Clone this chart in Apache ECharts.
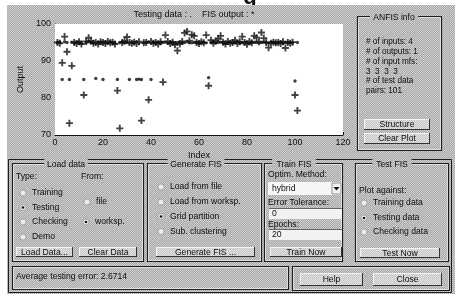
<!DOCTYPE html>
<html><head><meta charset="utf-8">
<script src="https://cdn.jsdelivr.net/npm/echarts/dist/echarts.min.js"></script>
<style>html,body{margin:0;padding:0;background:#fff;overflow:hidden}#c{width:455px;height:294px}</style>
</head><body><div id="c"></div>
<script>
// ---- data ----
const xTicks = [0, 20, 40, 60, 80, 100, 120];
const yTicks = [70, 80, 90, 100];
// testing data (".") for index 1..101
const testingData = [
 95.0,95.1,85.0,95.2,95.0,85.0,95.1,94.9,95.0,95.1,
 94.8,85.0,95.0,95.2,95.0,94.9,85.3,95.0,95.1,85.0,
 95.0,94.9,95.1,95.0,94.8,85.0,95.0,95.1,94.9,95.0,
 85.0,95.1,95.0,85.0,85.1,85.0,94.9,95.0,95.1,85.0,
 95.0,94.9,95.1,95.0,95.0,95.1,94.9,95.0,95.1,94.8,
 95.0,95.1,94.9,95.0,95.2,95.0,94.9,95.1,95.0,94.8,
 95.1,95.0,94.9,85.5,95.0,95.1,94.9,95.0,95.1,95.0,
 94.8,95.0,95.1,94.9,95.0,95.1,95.0,94.9,95.0,95.1,
 94.8,95.0,95.1,95.0,94.9,95.0,95.1,95.0,94.9,95.0,
 95.1,94.8,95.0,95.1,94.9,95.0,95.0,95.1,94.9,84.6,
 95.0];
// FIS output ("*") for index 1..101
const fisOutput = [
 95.0,94.8,89.5,96.6,92.5,73.2,88.7,95.0,94.7,95.2,
 94.6,80.8,95.3,96.3,95.4,94.8,95.0,94.6,95.2,95.0,
 94.7,95.3,94.9,95.1,94.6,82.0,71.8,95.0,95.4,96.5,
 95.0,94.8,95.1,94.7,95.2,73.9,94.9,95.0,79.5,95.3,
 94.8,95.0,94.6,95.2,84.3,97.0,95.3,94.7,95.1,94.4,
 92.8,94.6,95.3,97.6,98.0,95.5,97.1,96.8,95.0,94.7,
 95.2,94.9,97.0,83.3,95.6,94.8,95.4,96.0,96.8,95.1,
 94.6,95.3,94.8,95.0,95.6,94.7,95.2,96.6,95.0,94.5,
 95.3,94.9,96.8,96.3,95.2,97.7,96.2,95.0,93.6,94.8,
 95.1,94.9,95.0,94.7,95.2,93.5,95.0,94.8,95.1,80.8,
 76.6];
const infoLines = ['# of inputs: 4', '# of outputs: 1', '# of input mfs:', '3  3  3  3', '# of test data', 'pairs: 101'];
const statusText = 'Average testing error: 2.6714';

// ---- helpers ----
const FF = '"Liberation Sans", Arial, sans-serif';
const FONT = '8.6px ' + FF;
function mkPattern(a, b) {
  const cv = document.createElement('canvas'); cv.width = 2; cv.height = 2;
  const g = cv.getContext('2d');
  g.fillStyle = a; g.fillRect(0,0,2,2);
  g.fillStyle = b; g.fillRect(0,0,1,1); g.fillRect(1,1,1,1);
  return {image: cv, repeat: 'repeat'};
}
const bgPat = mkPattern('#a6a6a6', '#d0d0d0');
const btnPat = mkPattern('#c4c4c4', '#e4e4e4');
const G = [];
function rect(x,y,w,h,fill,stroke,lw){G.push({type:'rect',silent:true,shape:{x:x,y:y,width:w,height:h},style:{fill:fill||'none',stroke:stroke||null,lineWidth:lw||1}});}
function line(x1,y1,x2,y2,c,lw){G.push({type:'line',silent:true,shape:{x1:x1,y1:y1,x2:x2,y2:y2},style:{stroke:c,lineWidth:lw||1}});}
function text(x,y,t,align,extra){G.push({type:'text',silent:true,x:x,y:y,style:Object.assign({text:t,fill:'#0d0d0d',font:FONT,textAlign:align||'left',textVerticalAlign:'middle',align:align||'left',verticalAlign:'middle'},extra||{})});}
function panel(x,y,w,h,title,tx){
  rect(x+0.5,y+0.5,w,h,'none','#1e1e1e',1.2);
  rect(x+1.5,y+1.5,w-2,h-2,'none','#e8e8e8',0.8);
  if(title){
    const tw = title.length*4.4+4;
    rect(tx-tw/2,y-4,tw,8,bgPat,null);
    text(tx,y+1.5,title,'center');
  }
}
function button(x,y,w,h,label){
  rect(x,y,w,h,btnPat,null);
  line(x,y+0.5,x+w,y+0.5,'#f4f4f4');
  line(x+0.5,y,x+0.5,y+h,'#f4f4f4');
  line(x,y+h-0.5,x+w,y+h-0.5,'#333');
  line(x+w-0.5,y,x+w-0.5,y+h,'#333');
  text(x+w/2,y+h/2+0.5,label,'center');
}
function radio(cx,cy,label,sel){
  G.push({type:'circle',silent:true,shape:{cx:cx,cy:cy,r:3},style:{fill:'#ececec',stroke:'#888',lineWidth:0.6}});
  if(sel) G.push({type:'circle',silent:true,shape:{cx:cx,cy:cy,r:1.3},style:{fill:'#111'}});
  text(cx+9,cy,label,'left');
}
function field(x,y,w,h,val){
  rect(x,y,w,h,'#f2f2f2',null);
  line(x,y+0.5,x+w,y+0.5,'#666');
  text(x+3,y+h/2+0.5,val,'left');
}

// page glyph cut off at the top, then the GUI background over it
G.push({type:'text',silent:true,x:250,y:9,style:{text:'g',fill:'#111',font:'bold 22px ' + FF,textAlign:'center',align:'center',textVerticalAlign:'bottom',verticalAlign:'bottom'}});
rect(7,5,448,289,bgPat,null);
// plot title
text(194,14.5,'Testing data : .    FIS output : *','center',{font:'9px ' + FF});

// ANFIS info panel
panel(357,16,84,134,'ANFIS info',394);
infoLines.forEach(function(s,i){ text(366,42+i*9.8,s,'left',{font:'8.2px ' + FF}); });
button(364,119,66,11,'Structure');
button(364,133,66,11,'Clear Plot');

// bottom frame
rect(8.5,159.5,443,133,'none','#1e1e1e',1);
// Load data
panel(12,163,131,98,'Load data',66);
text(16,177,'Type:','left');
text(81,177,'From:','left');
radio(23,193,'Training',false);
radio(23,207.5,'Testing',true);
radio(23,222,'Checking',false);
radio(23,237,'Demo',false);
radio(87,202,'file',false);
radio(86,222,'worksp.',true);
button(16,247,57,10,'Load Data...');
button(79,247,58,10,'Clear Data');
// Generate FIS
panel(147,163,114,98,'Generate FIS',196);
radio(161,187,'Load from file',false);
radio(161,202,'Load from worksp.',false);
radio(161,216.5,'Grid partition',true);
radio(161,231.5,'Sub. clustering',false);
button(156,247,99,10,'Generate FIS ...');
// Train FIS
panel(264,163,78,98,'Train FIS',294);
text(268,175,'Optim. Method:','left');
rect(268,182,74,13,'#f6f6f6',null);
text(272,188.5,'hybrid','left');
rect(332,183,9,11,'#f0f0f0','#555',0.6);
G.push({type:'polygon',silent:true,shape:{points:[[333.5,187],[339.5,187],[336.5,190.5]]},style:{fill:'#111'}});
text(268,203,'Error Tolerance:','left');
field(269,208,73,11,'0');
text(268,224.5,'Epochs:','left');
field(269,229,73,11,'20');
button(270,247,72,10,'Train Now');
// Test FIS
panel(355,163,93,98,'Test FIS',392);
text(359,191,'Plot against:','left');
radio(364,203,'Training data',false);
radio(364,218,'Testing data',true);
radio(364,232,'Checking data',false);
button(360,248,80,10,'Test Now');
// status + help/close
panel(12,266,276,23,null);
text(16,277,statusText,'left');
panel(292,266,157,24,null);
button(300,273,63,13,'Help');
button(373,273,69,13,'Close');

// ---- chart ----
const chart = echarts.init(document.getElementById('c'), null, {renderer:'canvas'});
const plus = 'path://M2.2,0H3.8V2.2H6V3.8H3.8V6H2.2V3.8H0V2.2H2.2Z';
const axisLab = {fontSize:9, color:'#0d0d0d', fontFamily:'Liberation Sans'};
chart.setOption({
  animation:false,
  backgroundColor:'#ffffff',
  graphic:{elements:G},
  grid:{left:55,right:112,top:24,bottom:159,show:true,backgroundColor:'#ffffff',borderWidth:0,z:1},
  xAxis:{type:'value',min:xTicks[0],max:xTicks[xTicks.length-1],interval:20,
    name:'Index',nameLocation:'middle',nameGap:16,nameTextStyle:axisLab,
    axisLine:{show:true,onZero:false,lineStyle:{color:'#111',width:1}},
    axisTick:{show:true,inside:true,length:3,lineStyle:{color:'#111'}},
    axisLabel:Object.assign({margin:3},axisLab),splitLine:{show:false}},
  yAxis:{type:'value',min:yTicks[0],max:yTicks[yTicks.length-1],interval:10,
    name:'Output',nameLocation:'middle',nameGap:25,nameTextStyle:axisLab,
    axisLine:{show:true,onZero:false,lineStyle:{color:'#111',width:1}},
    axisTick:{show:true,inside:true,length:3,lineStyle:{color:'#111'}},
    axisLabel:Object.assign({margin:4},axisLab),splitLine:{show:false}},
  series:[
    {name:'Testing data',type:'scatter',symbol:'circle',symbolSize:3.4,
     itemStyle:{color:'#111'},data:testingData.map(function(v,i){return [i+1,v];}),z:3},
    {name:'FIS output',type:'scatter',symbol:plus,symbolSize:7,
     itemStyle:{color:'#111'},data:fisOutput.map(function(v,i){return [i+1,v];}),z:4}
  ]
});
</script>
</body></html>
